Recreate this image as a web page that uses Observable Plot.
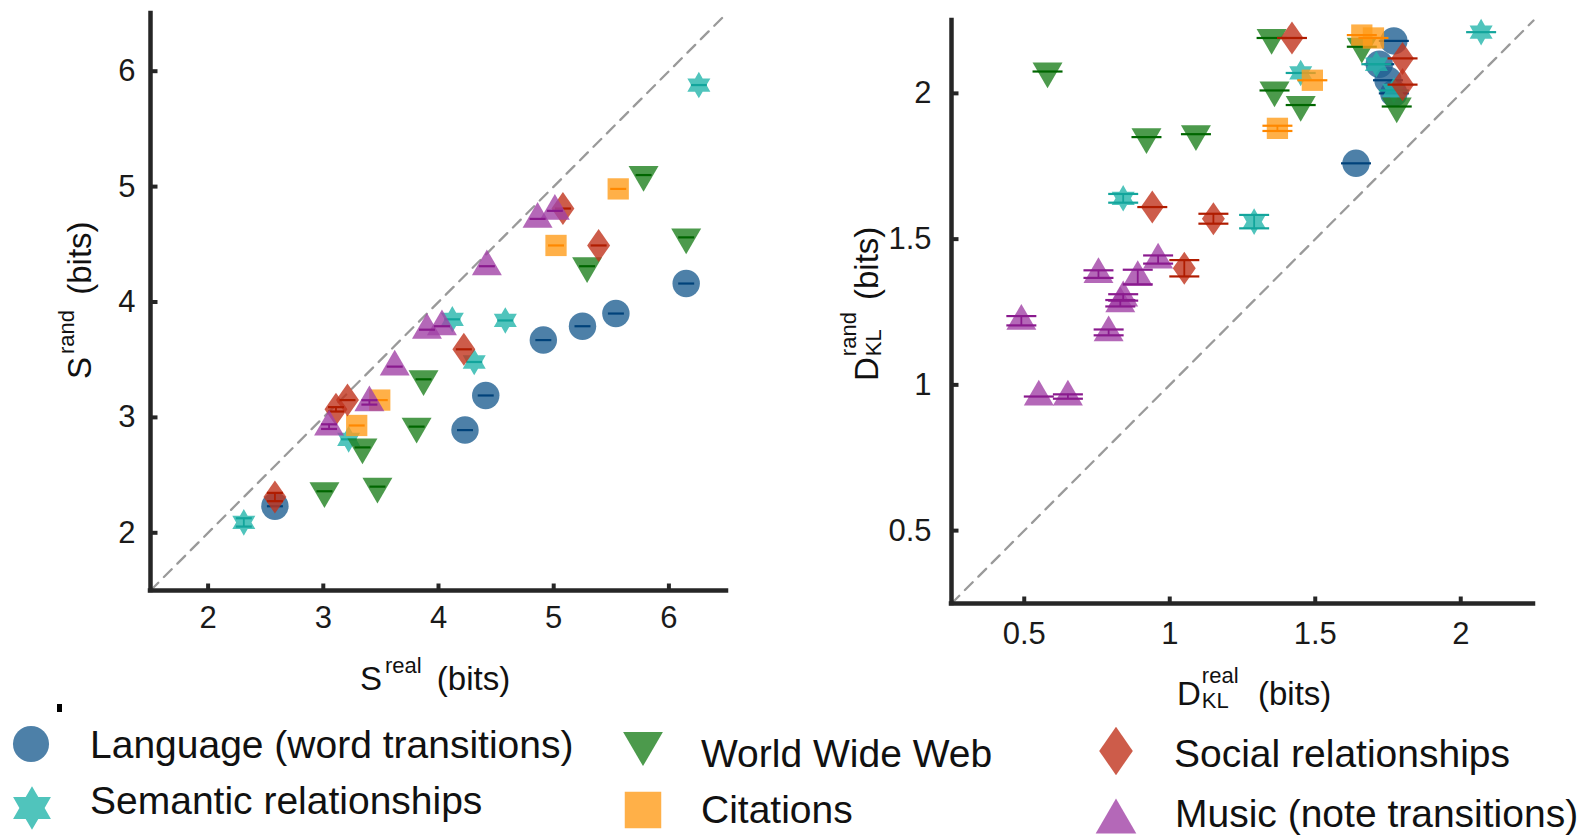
<!DOCTYPE html>
<html><head><meta charset="utf-8">
<script src="https://cdn.jsdelivr.net/npm/d3@7"></script>
<script src="https://cdn.jsdelivr.net/npm/@observablehq/plot@0.6"></script>
<style>
body{margin:0;background:#fff;}
#root{position:relative;width:1590px;height:836px;overflow:hidden;font-family:"Liberation Sans",Arial,sans-serif;color:#111;background:#fff;}
.panel{position:absolute;top:0;}
.ttl{position:absolute;font-size:33px;line-height:1;white-space:nowrap;color:#111;}
.rot{transform-origin:0 0;transform:rotate(-90deg);}
.sp{font-size:22px;position:relative;top:-17px;margin-left:3px;margin-right:6px;}
.ss{display:inline-block;position:relative;width:48px;height:33px;}
.ss .a,.ss .b{position:absolute;left:1px;font-size:22px;line-height:22px;}
.ss .a{top:-7px;}
.ss .b{top:18px;}
.leg{position:absolute;font-size:39px;line-height:1;white-space:nowrap;color:#111;}
.icon{position:absolute;overflow:visible;}
</style>
</head><body>
<div id="root"></div>
<script>
// ---------------- data ----------------
const categories = ["Language (word transitions)", "Semantic relationships", "World Wide Web", "Citations", "Social relationships", "Music (note transitions)"];

// Left panel: [S_real, S_rand, error]
const S_language = [[2.58,2.23,0],[4.23,2.89,0],[4.41,3.19,0],[4.91,3.67,0],[5.25,3.79,0],[5.54,3.90,0],[6.15,4.16,0]];
const S_semantic = [[2.31,2.09,0.036],[3.22,2.81,0],[4.31,3.48,0],[4.12,3.85,0],[4.58,3.84,0],[6.26,5.88,0]];
const S_www = [[3.01,2.36,0],[3.47,2.40,0],[3.34,2.74,0],[3.81,2.92,0],[3.87,3.33,0],[5.29,4.31,0],[6.15,4.56,0],[5.78,5.10,0]];
const S_citations = [[3.29,2.93,0],[3.49,3.15,0],[5.02,4.49,0],[5.56,4.98,0]];
const S_social = [[2.58,2.31,0.036],[3.11,3.07,0.019],[3.21,3.15,0],[4.22,3.59,0],[5.39,4.49,0],[5.08,4.81,0]];
const S_music = [[3.05,2.92,0.02],[3.40,3.13,0.019],[3.62,3.44,0],[3.90,3.76,0],[4.03,3.79,0],[4.42,4.31,0],[4.86,4.72,0],[5.01,4.79,0]];

// Right panel: [D_real, D_rand, error]
const D_language = [[1.64,1.76,0],[1.77,2.18,0],[1.72,2.10,0],[1.75,2.045,0],[1.77,2.00,0]];
const D_semantic = [[0.84,1.64,0.015],[1.29,1.56,0.023],[1.45,2.07,0],[1.71,2.10,0],[1.77,2.01,0],[2.07,2.21,0]];
const D_www = [[0.58,2.075,0],[0.92,1.85,0],[1.09,1.86,0],[1.35,2.19,0],[1.36,2.01,0],[1.45,1.96,0],[1.66,2.16,0],[1.78,1.955,0]];
const D_citations = [[1.37,1.88,0.009],[1.49,2.045,0],[1.66,2.20,0],[1.70,2.19,0]];
const D_social = [[0.94,1.61,0],[1.05,1.40,0.028],[1.15,1.57,0.017],[1.42,2.19,0],[1.80,2.12,0],[1.80,2.03,0]];
const D_music = [[0.49,1.22,0.016],[0.55,0.96,0],[0.65,0.96,0.0075],[0.755,1.38,0.013],[0.79,1.18,0.01],[0.83,1.28,0.011],[0.84,1.30,0.011],[0.89,1.37,0.025],[0.96,1.43,0.014]];

const S_domain = [1.5, 6.5];
const D_domain = [0.25, 2.25];
const S_ticks = [2, 3, 4, 5, 6];
const D_ticks = [0.5, 1, 1.5, 2];

// ---------------- symbols ----------------
function mk(fn){ return {draw(ctx, size){ const R = Math.sqrt(size/Math.PI); fn(ctx, R); }}; }
const symCircle = mk((c,R)=>{ c.moveTo(0.98*R,0); c.arc(0,0,0.98*R,0,2*Math.PI); c.closePath(); });
const symTriDown = mk((c,R)=>{ c.moveTo(-1.07*R,-0.64*R); c.lineTo(1.07*R,-0.64*R); c.lineTo(0,1.2*R); c.closePath(); });
const symTriUp = mk((c,R)=>{ c.moveTo(-1.07*R,0.64*R); c.lineTo(1.07*R,0.64*R); c.lineTo(0,-1.2*R); c.closePath(); });
const symDiamond = mk((c,R)=>{ c.moveTo(0,-1.18*R); c.lineTo(0.82*R,0); c.lineTo(0,1.18*R); c.lineTo(-0.82*R,0); c.closePath(); });
const symSquare = mk((c,R)=>{ const h=0.76*R; c.moveTo(-h,-h); c.lineTo(h,-h); c.lineTo(h,h); c.lineTo(-h,h); c.closePath(); });
const symHex = mk((c,R)=>{ const o=0.95*R, i=o/Math.sqrt(3); for(let k=0;k<12;k++){ const a=-Math.PI/2+k*Math.PI/6; const rr=k%2?i:o; const px=rr*Math.cos(a), py=rr*Math.sin(a); if(k) c.lineTo(px,py); else c.moveTo(px,py);} c.closePath(); });
const symDash = mk((c,R)=>{ c.moveTo(-R,0); c.lineTo(R,0); });
const symTickUp = mk((c,R)=>{ c.moveTo(0,0); c.lineTo(0,-R); });
const symTickRight = mk((c,R)=>{ c.moveTo(0,0); c.lineTo(R,0); });

const styles = [
  {sym: symCircle,  fill: "#216092", bar: "#00427a"},
  {sym: symHex,     fill: "#24b5ab", bar: "#13a59c"},
  {sym: symTriDown, fill: "#1f811f", bar: "#006600"},
  {sym: symSquare,  fill: "#ff9c1a", bar: "#ff8800"},
  {sym: symDiamond, fill: "#c0331d", bar: "#b01c00"},
  {sym: symTriUp,   fill: "#a142a6", bar: "#8a1a8e"}
];
const OPA = 0.8;
const AX = "#262626";
const fmt = d => String(d);

function panel({sets, domain, ticks, width, height, mL, mR, mT, mB, capR, xPad, yPad}) {
  const marks = [];
  marks.push(Plot.line(domain, {x: d => d, y: d => d, stroke: "#9a9a9a", strokeWidth: 2.3, strokeDasharray: "11,8"}));
  sets.forEach((set, k) => {
    const st = styles[k];
    const pts = set.map(([x, y, e]) => ({x, y, e, cat: categories[k]}));
    marks.push(Plot.dot(pts, {x: "x", y: "y", r: 14, symbol: st.sym, fill: st.fill, fillOpacity: OPA, stroke: "none"}));
    marks.push(Plot.ruleX(pts.filter(d => d.e > 0), {x: "x", y1: d => d.y - d.e, y2: d => d.y + d.e, stroke: st.bar, strokeWidth: 1.8}));
    marks.push(Plot.dot(pts, {x: "x", y: d => d.y - d.e, r: capR, symbol: symDash, stroke: st.bar, strokeWidth: 2.2, fill: "none"}));
    marks.push(Plot.dot(pts.filter(d => d.e > 0), {x: "x", y: d => d.y + d.e, r: capR, symbol: symDash, stroke: st.bar, strokeWidth: 2.2, fill: "none"}));
  });
  marks.push(Plot.ruleX([domain[0]], {stroke: AX, strokeWidth: 4.5, strokeLinecap: "square"}));
  marks.push(Plot.ruleY([domain[0]], {stroke: AX, strokeWidth: 4.5, strokeLinecap: "square"}));
  marks.push(Plot.dot(ticks, {x: d => d, y: () => domain[0], r: 7, symbol: symTickUp, stroke: AX, strokeWidth: 4, fill: "none"}));
  marks.push(Plot.dot(ticks, {y: d => d, x: () => domain[0], r: 7, symbol: symTickRight, stroke: AX, strokeWidth: 4, fill: "none"}));
  marks.push(Plot.axisX(ticks, {tickSize: 0, tickPadding: xPad, label: null, fill: "#1a1a1a", tickFormat: fmt}));
  marks.push(Plot.axisY(ticks, {tickSize: 0, tickPadding: yPad, label: null, fill: "#1a1a1a", tickFormat: fmt}));
  return Plot.plot({
    width, height, marginLeft: mL, marginRight: mR, marginTop: mT, marginBottom: mB,
    x: {domain, label: null},
    y: {domain, label: null},
    style: {fontFamily: "'Liberation Sans', Arial, sans-serif", fontSize: "31px", background: "transparent", overflow: "visible"},
    marks
  });
}

const root = document.getElementById("root");

const left = panel({sets: [S_language, S_semantic, S_www, S_citations, S_social, S_music],
  domain: S_domain, ticks: S_ticks, width: 760, height: 660, mL: 150, mR: 34, mT: 13, mB: 70, capR: 8, xPad: 15, yPad: 15});
left.classList.add("panel"); left.style.left = "0px";
root.appendChild(left);

const right = panel({sets: [D_language, D_semantic, D_www, D_citations, D_social, D_music],
  domain: D_domain, ticks: D_ticks, width: 760, height: 680, mL: 151, mR: 27, mT: 20, mB: 77, capR: 15, xPad: 18, yPad: 20});
right.classList.add("panel"); right.style.left = "800px";
root.appendChild(right);

// ---------------- axis titles ----------------
function addDiv(cls, html, left, top) {
  const d = document.createElement("div");
  d.className = cls; d.innerHTML = html;
  d.style.left = left + "px"; d.style.top = top + "px";
  root.appendChild(d); return d;
}
addDiv("ttl", 'S<span class="sp">real</span> (bits)', 360, 662);
addDiv("ttl", 'D<span class="ss"><span class="a">real</span><span class="b">KL</span></span> (bits)', 1177, 672);
addDiv("ttl rot", 'S<span class="sp">rand</span> (bits)', 63, 379);
addDiv("ttl rot", 'D<span class="ss"><span class="a">rand</span><span class="b">KL</span></span> (bits)', 845, 381);

// stray mark present in the reference
const blip = document.createElement("div");
Object.assign(blip.style, {position: "absolute", left: "57px", top: "704px", width: "5px", height: "8px", background: "#000"});
root.appendChild(blip);

// ---------------- legend ----------------
const legendItems = [
  {k: 0, cx: 31,   cy: 744, R: 18.4, dy: 0,    tx: 90,   base: 758},
  {k: 1, cx: 32,   cy: 808, R: 23,   dy: 0,    tx: 90,   base: 814},
  {k: 2, cx: 643,  cy: 749, R: 18.6, dy: -0.28, tx: 701, base: 767},
  {k: 3, cx: 643,  cy: 810, R: 24,   dy: 0,    tx: 701,  base: 823},
  {k: 4, cx: 1116, cy: 751, R: 20.5, dy: 0,    tx: 1174, base: 767},
  {k: 5, cx: 1116, cy: 816, R: 19,   dy: 0.28, tx: 1175, base: 827}
];
const svgns = "http://www.w3.org/2000/svg";
legendItems.forEach(it => {
  const st = styles[it.k];
  const s = document.createElementNS(svgns, "svg");
  s.setAttribute("class", "icon");
  s.setAttribute("width", 70); s.setAttribute("height", 70);
  s.style.left = (it.cx - 35) + "px"; s.style.top = (it.cy - 35) + "px";
  const p = document.createElementNS(svgns, "path");
  p.setAttribute("d", d3.symbol(st.sym, it.R * it.R * Math.PI)());
  p.setAttribute("transform", `translate(35,${35 + it.dy * it.R})`);
  p.setAttribute("fill", st.fill); p.setAttribute("fill-opacity", OPA);
  s.appendChild(p); root.appendChild(s);
  addDiv("leg", categories[it.k], it.tx, Math.round(it.base - 0.8465 * 39));
});
</script>
</body></html>
